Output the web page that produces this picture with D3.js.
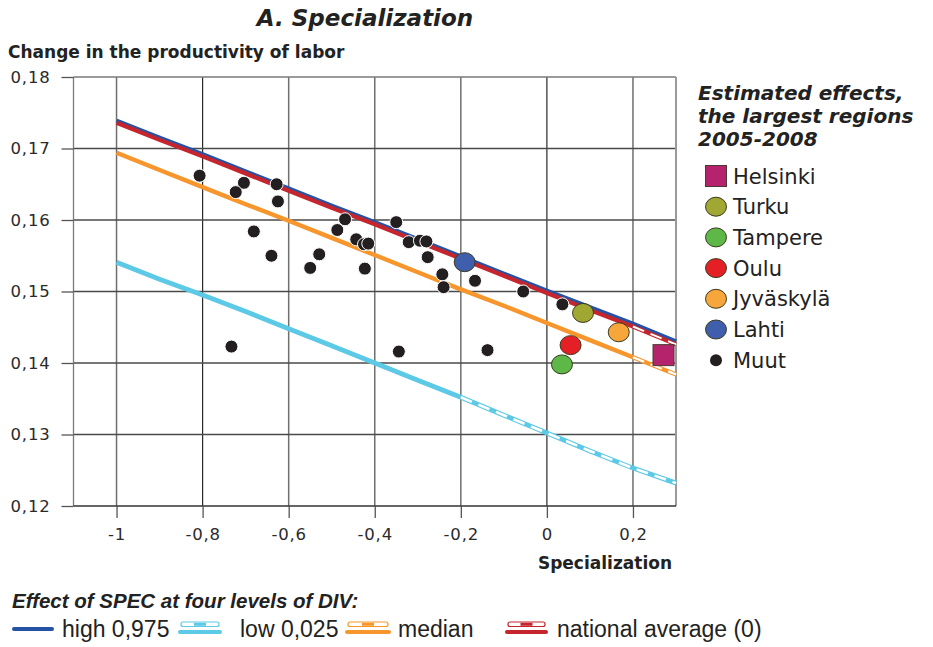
<!DOCTYPE html>
<html>
<head>
<meta charset="utf-8">
<script src="https://cdn.jsdelivr.net/npm/d3@7"></script>
<style>
  body { margin: 0; background: #fff; }
  svg { display: block; }
</style>
</head>
<body>
<svg id="chart" width="933" height="647"></svg>
<script>
//axis ticks
const xTicks = [-1, -0.8, -0.6, -0.4, -0.2, 0, 0.2]
const yTicks = [0.12, 0.13, 0.14, 0.15, 0.16, 0.17, 0.18]

//effect of SPEC at four levels of DIV, read at every 0.1
const lineX = [-1, -0.9, -0.8, -0.7, -0.6, -0.5, -0.4, -0.3, -0.2, -0.1, 0, 0.1, 0.2, 0.3]
const highValues = [0.1739, 0.1715, 0.1692, 0.1668, 0.1644, 0.1620, 0.1597, 0.1573, 0.1549, 0.1525, 0.1501, 0.1478, 0.1455, 0.1430]
const lowValues = [0.1541, 0.1517, 0.1495, 0.1472, 0.1448, 0.1424, 0.1400, 0.1376, 0.1352, 0.1327, 0.1302, 0.1277, 0.1253, 0.1232]
const medianValues = [0.1694, 0.1670, 0.1646, 0.1622, 0.1599, 0.1575, 0.1551, 0.1527, 0.1503, 0.1480, 0.1456, 0.1432, 0.1408, 0.1384]
const nationalValues = [0.1736, 0.1712, 0.1689, 0.1665, 0.1641, 0.1617, 0.1594, 0.1570, 0.1546, 0.1522, 0.1498, 0.1474, 0.1451, 0.1426]
//where each line turns into the outlined (extrapolated) style
const lowSolidTo = -0.2
const medianSolidTo = 0.2
const nationalSolidTo = 0.2

//largest regions
const regionNames = ["Helsinki", "Turku", "Tampere", "Oulu", "Jyväskylä", "Lahti"]
const regionX = [0.271, 0.084, 0.035, 0.055, 0.167, -0.191]
const regionY = [0.1411, 0.1470, 0.1398, 0.1425, 0.1443, 0.1541]

//other regions (Muut)
const otherX = [-0.807, -0.704, -0.723, -0.628, -0.625, -0.681, -0.469, -0.487, -0.350, -0.443, -0.425, -0.415, -0.640, -0.529, -0.550, -0.423, -0.321, -0.295, -0.280, -0.277, -0.243, -0.240, -0.167, -0.055, 0.036, -0.733, -0.344, -0.138]
const otherY = [0.1662, 0.1652, 0.1639, 0.1650, 0.1626, 0.1584, 0.1601, 0.1586, 0.1597, 0.1573, 0.1566, 0.1567, 0.1550, 0.1552, 0.1533, 0.1532, 0.1569, 0.1571, 0.1570, 0.1548, 0.1524, 0.1506, 0.1515, 0.1500, 0.1482, 0.1423, 0.1416, 0.1418]

//styles
const regionColors = {
  "Helsinki": "#b5236d", "Turku": "#a0a833", "Tampere": "#5db847",
  "Oulu": "#e41f26", "Jyväskylä": "#f7a63c", "Lahti": "#3f5fac"
}
const C = { high: "#2452a4", low: "#5cc9e6", median: "#f7962c", national: "#c5252d" }

const svg = d3.select("#chart")
svg.append("rect").attr("width", 933).attr("height", 647).attr("fill", "#fff")

const x = d3.scaleLinear().domain([-1.1, 0.3]).range([73.5, 676])
const y = d3.scaleLinear().domain([0.12, 0.18]).range([506, 77])

const fi = d3.formatLocale({ decimal: ",", thousands: " ", grouping: [3], currency: ["", ""], minus: "-" })
const fx = fi.format(".1~f"), fy = fi.format(".2f")

//grid
let g = svg.append("g")
g.selectAll("line.vg").data(xTicks).enter().append("line")
  .attr("x1", d => x(d)).attr("x2", d => x(d)).attr("y1", y(0.18)).attr("y2", y(0.12))
  .attr("stroke", d => (d === -0.8 || d === 0) ? "#2a2a2a" : "#6f6f6f")
  .attr("stroke-width", d => (d === -0.8 || d === 0) ? 1.2 : 1.5)
g.selectAll("line.hg").data(yTicks.filter(d => d > 0.12 && d < 0.18)).enter().append("line")
  .attr("x1", x(-1.1)).attr("x2", x(0.3)).attr("y1", d => y(d)).attr("y2", d => y(d))
  .attr("stroke", "#4a4a4a").attr("stroke-width", 1.3)
//frame
g.append("line").attr("x1", x(-1.1)).attr("x2", x(0.3)).attr("y1", y(0.18)).attr("y2", y(0.18)).attr("stroke", "#7a7a7a").attr("stroke-width", 1.3)
g.append("line").attr("x1", x(-1.1)).attr("x2", x(-1.1)).attr("y1", y(0.18)).attr("y2", y(0.12)).attr("stroke", "#7a7a7a").attr("stroke-width", 1.3)
g.append("line").attr("x1", x(0.3)).attr("x2", x(0.3)).attr("y1", y(0.18)).attr("y2", y(0.12)).attr("stroke", "#9a9a9a").attr("stroke-width", 2)

//axes
const yAxis = svg.append("g").attr("transform", `translate(${x(-1.1)},0)`)
  .call(d3.axisLeft(y).tickValues(yTicks).tickFormat(fy).tickSize(12).tickPadding(11))
const xAxis = svg.append("g").attr("transform", `translate(0,${y(0.12)})`)
  .call(d3.axisBottom(x).tickValues(xTicks).tickFormat(fx).tickSize(12).tickPadding(10))
;[yAxis, xAxis].forEach(a => {
  a.select(".domain").attr("stroke", "#333").attr("stroke-width", 1.3)
  a.selectAll(".tick line").attr("stroke", "#555").attr("stroke-width", 1.3)
  a.selectAll("text").attr("fill", "#2a2a2a").style("font-family", "DejaVu Sans").style("font-size", "16.5px").style("letter-spacing", "0.8px")
})
yAxis.select(".domain").remove()
xAxis.select(".domain").attr("d", `M${x(-1.1)},0H${x(0.3)}`)

//lines
const line = d3.line().x(d => x(d[0])).y(d => y(d[1]))
const drawEffect = (values, color, solidTo, w) => {
  let pts = lineX.map((d, i) => [d, values[i]])
  let solid = pts.filter(d => d[0] <= solidTo + 1e-9)
  let dashed = pts.filter(d => d[0] >= solidTo - 1e-9)
  svg.append("path").attr("d", line(solid)).attr("fill", "none").attr("stroke", color).attr("stroke-width", w)
  if (dashed.length > 1) {
    svg.append("path").attr("d", line(dashed)).attr("fill", "none").attr("stroke", color).attr("stroke-width", w)
    svg.append("path").attr("d", line(dashed)).attr("fill", "none").attr("stroke", "#fff").attr("stroke-width", w - 2.2)
      .attr("stroke-dasharray", "12,7")
  }
}
drawEffect(lowValues, C.low, lowSolidTo, 4.8)
drawEffect(medianValues, C.median, medianSolidTo, 4.4)
drawEffect(highValues, C.high, 1, 4.2)
drawEffect(nationalValues, C.national, nationalSolidTo, 4.2)

//other regions
svg.selectAll("circle.muut").data(otherX.map((d, i) => [d, otherY[i]])).enter().append("circle")
  .attr("cx", d => x(d[0])).attr("cy", d => y(d[1])).attr("r", 6.5)
  .attr("fill", "#231f20").attr("stroke", "#fff").attr("stroke-width", 1)

//largest regions
const regions = regionNames.map((n, i) => ({ name: n, x: regionX[i], y: regionY[i] }))
regions.forEach(d => {
  if (d.name === "Helsinki") {
    svg.append("rect").attr("x", x(d.x) - 10.5).attr("y", y(d.y) - 10.5).attr("width", 21).attr("height", 21)
      .attr("fill", regionColors[d.name]).attr("stroke", "#4a3a30").attr("stroke-width", 1)
  } else {
    svg.append("ellipse").attr("cx", x(d.x)).attr("cy", y(d.y)).attr("rx", 10.5).attr("ry", 9.5)
      .attr("fill", regionColors[d.name]).attr("stroke", "#3a3a1e").attr("stroke-width", 1)
  }
})

//titles
svg.append("text").attr("x", 365).attr("y", 26).attr("text-anchor", "middle")
  .style("font-family", "DejaVu Sans").style("font-weight", "bold").style("font-style", "italic").style("font-size", "23px")
  .attr("fill", "#222").text("A. Specialization")
svg.append("text").attr("x", 8).attr("y", 58)
  .style("font-family", "DejaVu Sans").style("font-weight", "bold").style("font-size", "17px")
  .attr("fill", "#222").text("Change in the productivity of labor")
svg.append("text").attr("x", 672).attr("y", 569).attr("text-anchor", "end")
  .style("font-family", "DejaVu Sans").style("font-weight", "bold").style("font-size", "17px")
  .attr("fill", "#222").text("Specialization")

//right legend
const lt = svg.append("text").attr("x", 698).attr("y", 100)
  .style("font-family", "DejaVu Sans").style("font-weight", "bold").style("font-style", "italic").style("font-size", "20px").attr("fill", "#222")
;["Estimated effects,", "the largest regions", "2005-2008"].forEach((t, i) => {
  lt.append("tspan").attr("x", 698).attr("dy", i ? 23 : 0).text(t)
})
const legendRows = regionNames.concat(["Muut"])
legendRows.forEach((n, i) => {
  let cy = 176 + i * 30.7
  if (n === "Helsinki") {
    svg.append("rect").attr("x", 705.5).attr("y", cy - 10.5).attr("width", 21).attr("height", 21)
      .attr("fill", regionColors[n]).attr("stroke", "#4a3a30").attr("stroke-width", 1)
  } else if (n === "Muut") {
    svg.append("circle").attr("cx", 716).attr("cy", cy).attr("r", 6).attr("fill", "#231f20")
  } else {
    svg.append("ellipse").attr("cx", 716).attr("cy", cy).attr("rx", 10.5).attr("ry", 9.5)
      .attr("fill", regionColors[n]).attr("stroke", "#3a3a1e").attr("stroke-width", 1)
  }
  svg.append("text").attr("x", 733).attr("y", cy + 7.5)
    .style("font-family", "DejaVu Sans").style("font-size", "21px").attr("fill", "#222").text(n)
})

//bottom legend
svg.append("text").attr("x", 12).attr("y", 608)
  .style("font-family", "Liberation Sans").style("font-weight", "bold").style("font-style", "italic").style("font-size", "20.5px")
  .attr("fill", "#222").text("Effect of SPEC at four levels of DIV:")
const bottomLegend = [
  { label: "high 0,975", color: C.high, x0: 14, x1: 52, tx: 62, twin: false },
  { label: "low 0,025", color: C.low, x0: 180, x1: 220, tx: 240, twin: true },
  { label: "median", color: C.median, x0: 347, x1: 389, tx: 398, twin: true },
  { label: "national average (0)", color: C.national, x0: 507, x1: 546, tx: 557, twin: true }
]
bottomLegend.forEach(d => {
  if (d.twin) {
    svg.append("rect").attr("x", d.x0 + 1).attr("y", 622).attr("width", d.x1 - d.x0 - 2).attr("height", 4.5)
      .attr("rx", 2).attr("fill", "#fff").attr("stroke", d.color).attr("stroke-width", 1.2)
    svg.append("line").attr("x1", (d.x0 + d.x1) / 2 - 6).attr("x2", (d.x0 + d.x1) / 2 + 6).attr("y1", 624.3).attr("y2", 624.3)
      .attr("stroke", d.color).attr("stroke-width", 3)
    svg.append("line").attr("x1", d.x0).attr("x2", d.x1).attr("y1", 632).attr("y2", 632)
      .attr("stroke", d.color).attr("stroke-width", 4).attr("stroke-linecap", "round")
  } else {
    svg.append("line").attr("x1", d.x0).attr("x2", d.x1).attr("y1", 629).attr("y2", 629)
      .attr("stroke", d.color).attr("stroke-width", 4).attr("stroke-linecap", "round")
  }
  svg.append("text").attr("x", d.tx).attr("y", 637)
    .style("font-family", "Liberation Sans").style("font-size", "23px").attr("fill", "#222").text(d.label)
})
</script>
</body>
</html>
